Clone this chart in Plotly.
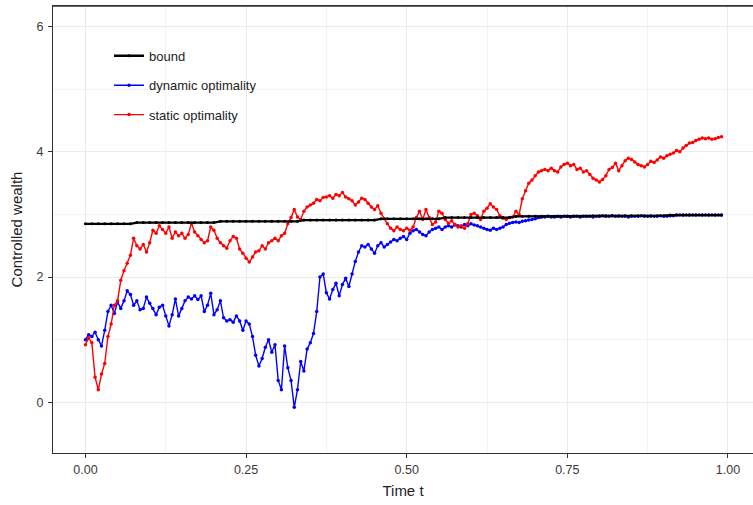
import plotly.graph_objects as go

# ---- data ----
step_fine = 0.005
step_bound = 0.01

static_opt = [
    0.92, 1.03, 0.95, 0.40, 0.20, 0.45, 0.62, 1.05, 1.25, 1.55,
    1.62, 1.95, 2.10, 2.22, 2.35, 2.62, 2.50, 2.45, 2.52, 2.40,
    2.55, 2.75, 2.70, 2.82, 2.76, 2.70, 2.80, 2.62, 2.72, 2.66,
    2.70, 2.62, 2.68, 2.86, 2.72, 2.66, 2.60, 2.55, 2.58, 2.80,
    2.75, 2.62, 2.55, 2.50, 2.46, 2.58, 2.65, 2.62, 2.45, 2.38,
    2.30, 2.24, 2.32, 2.40, 2.42, 2.50, 2.45, 2.55, 2.58, 2.62,
    2.58, 2.66, 2.70, 2.85, 2.95, 3.08, 2.96, 2.92, 3.05, 3.12,
    3.15, 3.18, 3.24, 3.22, 3.27, 3.28, 3.30, 3.26, 3.32, 3.30,
    3.35, 3.28, 3.25, 3.22, 3.15, 3.20, 3.26, 3.24, 3.18, 3.12,
    3.08, 3.14, 3.02, 2.93, 2.85, 2.78, 2.74, 2.80, 2.76, 2.74,
    2.78, 2.75, 2.80, 2.95, 3.05, 2.92, 3.08, 2.95, 2.84, 2.88,
    3.05, 3.02, 2.92, 2.86, 2.90, 2.84, 2.80, 2.82, 2.78, 2.85,
    3.00, 3.02, 2.98, 2.92, 3.05, 3.10, 3.17, 3.12, 3.08, 2.98,
    2.94, 2.92, 2.95, 2.96, 3.05, 3.00, 3.25, 3.38, 3.50, 3.55,
    3.62, 3.68, 3.70, 3.72, 3.70, 3.74, 3.70, 3.68, 3.76, 3.80,
    3.82, 3.78, 3.80, 3.72, 3.74, 3.68, 3.70, 3.64, 3.58, 3.55,
    3.52, 3.56, 3.62, 3.72, 3.75, 3.82, 3.70, 3.78, 3.86, 3.90,
    3.88, 3.84, 3.80, 3.78, 3.76, 3.80, 3.85, 3.83, 3.87, 3.92,
    3.90, 3.94, 3.96, 3.98, 4.02, 4.00, 4.06, 4.10, 4.14, 4.15,
    4.18, 4.20, 4.22, 4.21, 4.22, 4.20, 4.21, 4.23, 4.24,
]

dynamic_opt = [
    1.00, 1.08, 1.05, 1.12, 1.00, 0.90, 1.15, 1.45, 1.55, 1.42,
    1.60, 1.50, 1.62, 1.78, 1.72, 1.55, 1.62, 1.48, 1.50, 1.68,
    1.58, 1.50, 1.40, 1.52, 1.55, 1.38, 1.22, 1.40, 1.65, 1.38,
    1.50, 1.62, 1.68, 1.65, 1.70, 1.64, 1.70, 1.45, 1.55, 1.74,
    1.40, 1.48, 1.62, 1.35, 1.30, 1.32, 1.28, 1.38, 1.30, 1.15,
    1.30, 1.25, 1.05, 0.75, 0.58, 0.70, 0.88, 1.00, 0.80, 0.92,
    0.35, 0.20, 0.90, 0.55, 0.35, -0.08, 0.20, 0.65, 0.50, 0.85,
    0.95, 1.10, 1.45, 2.00, 2.05, 1.75, 1.65, 1.80, 1.90, 1.70,
    1.88, 1.98, 1.85, 2.05, 2.25, 2.40, 2.50, 2.48, 2.52, 2.45,
    2.38, 2.50, 2.55, 2.48, 2.52, 2.56, 2.60, 2.58, 2.62, 2.65,
    2.60, 2.70, 2.74, 2.76, 2.72, 2.68, 2.66, 2.72, 2.76, 2.78,
    2.80, 2.76, 2.80, 2.82, 2.80, 2.83, 2.82, 2.80, 2.84, 2.82,
    2.85, 2.83, 2.82, 2.80, 2.78, 2.76, 2.75, 2.78, 2.76, 2.78,
    2.80, 2.84, 2.86, 2.87, 2.88, 2.87, 2.89, 2.90, 2.91, 2.92,
    2.93, 2.95, 2.96, 2.96, 2.97, 2.96, 2.96, 2.97, 2.96, 2.97,
    2.97, 2.96, 2.97, 2.97, 2.96, 2.97, 2.97, 2.97, 2.96, 2.97,
    2.97, 2.98, 2.97, 2.97, 2.98, 2.97, 2.97, 2.97, 2.97, 2.96,
    2.97, 2.97, 2.97, 2.98, 2.97, 2.97, 2.97, 2.97, 2.97, 2.98,
    2.97, 2.97, 2.98, 2.98, 2.99, 2.99, 2.99, 2.99, 2.99, 2.99,
    2.99, 2.99, 2.99, 2.99, 2.99, 2.99, 2.99, 2.99, 2.99,
]

bound = [
    2.85, 2.85, 2.85, 2.85, 2.85, 2.85, 2.85, 2.85, 2.87, 2.87,
    2.87, 2.87, 2.87, 2.87, 2.87, 2.87, 2.87, 2.87, 2.87, 2.87,
    2.87, 2.89, 2.89, 2.89, 2.89, 2.89, 2.89, 2.89, 2.89, 2.89,
    2.89, 2.89, 2.89, 2.89, 2.91, 2.91, 2.91, 2.91, 2.91, 2.91,
    2.91, 2.91, 2.91, 2.91, 2.91, 2.91, 2.93, 2.93, 2.93, 2.93,
    2.93, 2.93, 2.93, 2.93, 2.93, 2.93, 2.95, 2.95, 2.95, 2.95,
    2.95, 2.95, 2.95, 2.95, 2.95, 2.95, 2.95, 2.97, 2.97, 2.97,
    2.97, 2.97, 2.97, 2.97, 2.97, 2.97, 2.97, 2.97, 2.97, 2.98,
    2.98, 2.98, 2.98, 2.98, 2.98, 2.98, 2.98, 2.98, 2.98, 2.98,
    2.98, 2.99, 2.99, 2.99, 2.99, 2.99, 2.99, 2.99, 2.99, 2.99,
]

x_ticks = [0.0, 0.25, 0.5, 0.75, 1.0]
x_tick_labels = ["0.00", "0.25", "0.50", "0.75", "1.00"]
y_ticks = [0, 2, 4, 6]
y_tick_labels = ["0", "2", "4", "6"]

t_fine_s = [i * step_fine for i in range(len(static_opt))]
t_fine_d = [i * step_fine for i in range(len(dynamic_opt))]
t_bound = [i * step_bound for i in range(len(bound))]

fig = go.Figure()
fig.add_trace(go.Scatter(
    x=t_fine_d, y=dynamic_opt, mode="lines+markers", name="dynamic optimality",
    line=dict(color="#0000FF", width=1.4), marker=dict(color="#0000FF", size=3.5),
    legendgroup="b", legendrank=2))
fig.add_trace(go.Scatter(
    x=t_fine_s, y=static_opt, mode="lines+markers", name="static optimality",
    line=dict(color="#FF0000", width=1.4), marker=dict(color="#FF0000", size=3.5),
    legendgroup="c", legendrank=3))
fig.add_trace(go.Scatter(
    x=t_bound, y=bound, mode="lines+markers", name="bound",
    line=dict(color="#000000", width=2.4), marker=dict(color="#000000", size=3),
    legendgroup="a", legendrank=1))

axis_common = dict(
    showline=True, linecolor="#333333", linewidth=1.3,
    ticks="outside", ticklen=4, tickwidth=1, tickcolor="#333333",
    showgrid=True, gridcolor="#EBEBEB", gridwidth=1.2,
    zeroline=False, automargin=False,
    tickfont=dict(family="Liberation Sans, Arial", size=12.5, color="#3a3a3a"),
)

fig.update_layout(
    width=753, height=505,
    margin=dict(l=53, r=0, t=6, b=52, autoexpand=False),
    paper_bgcolor="white", plot_bgcolor="white",
    showlegend=True,
    legend=dict(
        x=0.08, y=0.922, xanchor="left", yanchor="top",
        bgcolor="rgba(255,255,255,0)",
        font=dict(family="Liberation Sans, Arial", size=13, color="#222222"),
        traceorder="grouped", tracegroupgap=9.5, itemwidth=30,
    ),
    xaxis=dict(
        range=[-0.0505, 1.039], tickvals=x_ticks, ticktext=x_tick_labels,
        mirror=True, ticklabelstandoff=1,
        minor=dict(dtick=0.125, tick0=0, showgrid=True, gridcolor="#F2F2F2", gridwidth=0.8, ticks=""),
        title=dict(text="Time t", font=dict(family="Liberation Sans, Arial", size=15, color="#222222"), standoff=9),
        **axis_common,
    ),
    yaxis=dict(
        range=[-0.81, 6.33], tickvals=y_ticks, ticktext=y_tick_labels,
        mirror=False, ticklabelstandoff=2,
        minor=dict(dtick=1, tick0=0, showgrid=True, gridcolor="#F2F2F2", gridwidth=0.8, ticks=""),
        title=dict(text="Controlled wealth", font=dict(family="Liberation Sans, Arial", size=15, color="#222222"), standoff=10),
        **axis_common,
    ),
    shapes=[dict(type="line", xref="paper", yref="paper", x0=0, x1=1, y0=1, y1=1,
                 line=dict(color="#333333", width=1.3), layer="above")],
)

fig.write_html(
    "out.html",
    config={"displayModeBar": False},
    post_script="document.body.style.margin='0';document.body.style.overflow='hidden';",
)
